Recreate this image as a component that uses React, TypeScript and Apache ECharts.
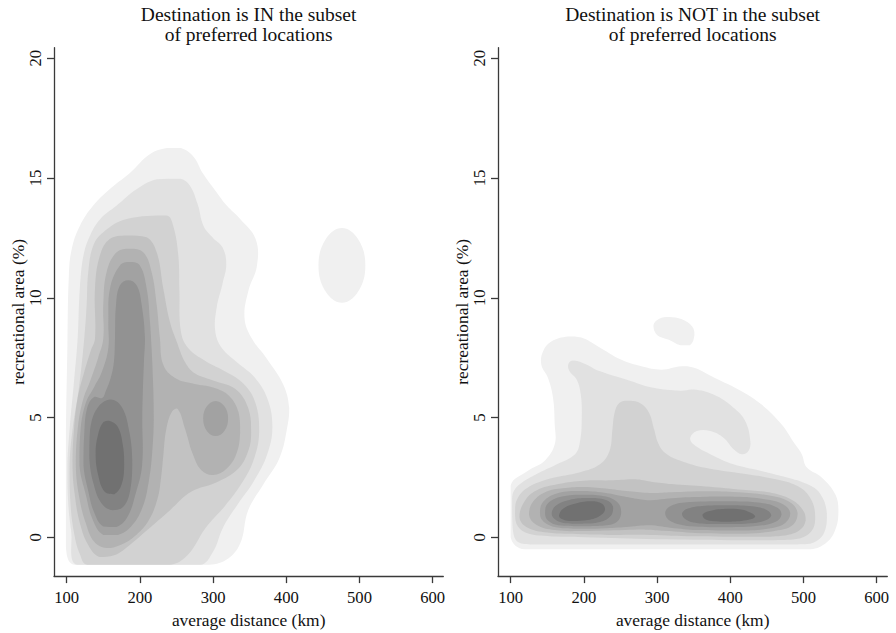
import React, { useEffect, useRef } from "react";
import * as echarts from "echarts";

// ---------- axes ----------
const X_TICKS = [100, 200, 300, 400, 500, 600];
const Y_TICKS = [0, 5, 10, 15, 20];
const X_MIN = 82.7;
const X_MAX = 614.5;
const Y_MIN = -1.62;
const Y_MAX = 20.44;
const X_NAME = "average distance (km)";
const Y_NAME = "recreational area (%)";
const TITLE_IN = ["Destination is IN the subset", "of preferred locations"];
const TITLE_NOT = ["Destination is NOT in the subset", "of preferred locations"];

// ---------- contour level fills (level 1 = lowest density) ----------
const LEVEL_GRAYS = [240, 225, 210, 194, 178, 162, 146, 130, 113];

// ---------- panel 1: destination IN the subset (contour outlines, data units) ----------
const IN_L1 = [[99,-0.4],[111,-1.15],[291,-1.15],[318,-0.94],[337,-0.26],[348,1.13],[369,2.22],[391,3.33],[402,4.71],[404,5.4],[396,6.37],[373,7.48],[353,8.3],[343,9.15],[348,10.26],[360,11.35],[358,12.46],[337,13.29],[319,13.84],[305,14.4],[286,15.2],[273,15.9],[256,16.25],[237,16.25],[214,16.0],[186,15.2],[159,14.54],[136,13.84],[118,13.0],[107,12.05],[103,10.93],[101,8],[99,4]];
const IN_L1_BLOB = [[476,12.91],[498,12.45],[508,11.35],[498,10.25],[476,9.79],[454,10.25],[444,11.35],[454,12.45]];
const IN_L2 = [[114,-1.15],[282,-1.15],[300,-0.6],[314,0.43],[334,1.39],[356,2.36],[374,3.47],[381,4.6],[374,5.8],[356,6.7],[333,7.3],[312,7.9],[303,8.6],[305,9.6],[313,10.6],[318,11.4],[313,12.1],[300,12.5],[287,13.0],[279,13.9],[268,14.7],[255,14.97],[223,14.95],[196,14.54],[168,13.84],[146,13.29],[132,12.6],[123,11.77],[118,10.39],[115,8.3],[110,6.5],[104,4.5],[101,3.0],[102,1.5],[106,0.3]];
const IN_L3 = [[128,-1.15],[240,-1.15],[265,-0.75],[290,0.4],[316,1.3],[338,2.2],[355,3.2],[363,4.4],[358,5.6],[342,6.4],[318,6.9],[290,7.35],[266,7.9],[256,8.6],[254,10.3],[252.5,11.77],[245.6,13.0],[236.6,13.43],[182,13.29],[150,12.74],[136.4,12.18],[129.5,11.08],[127.3,9.7],[124,8.3],[117,6.3],[108,4.5],[104,3.0],[105,1.5],[110,0.2],[118,-0.7]];
const IN_L4 = [[159.2,12.46],[182,12.6],[209.3,12.53],[223,11.9],[232,10.39],[241,9.0],[250,8.2],[262,7.3],[275,6.85],[300,6.55],[330,6.2],[348,5.4],[352,4.4],[348,3.6],[334,2.85],[305,2.3],[270,1.9],[240,1.1],[210,0.3],[185,-0.35],[165,-0.75],[145,-0.82],[130,-0.35],[118,0.6],[111,1.8],[108,3.0],[110,4.5],[115,5.8],[124,6.9],[133,7.8],[138.7,8.3],[138.7,10.39],[145.5,11.77]];
const IN_L5 = [[168.3,11.9],[186.5,12.05],[204.6,11.9],[216,11.08],[223,9.7],[227.4,8.3],[232,7.2],[248,6.65],[275,6.4],[300,6.25],[322,5.9],[335,5.2],[337,4.4],[332,3.5],[318,2.85],[300,2.6],[284,2.8],[272,3.5],[262,4.5],[252,5.35],[244,5.25],[236,4.5],[232,3.4],[229,2.5],[224,1.6],[212,0.7],[195,0.1],[175,-0.3],[155,-0.45],[138,-0.2],[126,0.6],[117,1.7],[112.5,3.0],[115,4.5],[122,5.7],[133,6.6],[143,7.5],[150,8.3],[150,9.7],[154.6,11.08]];
const IN_L6 = [[172.8,11.35],[186.5,11.49],[200,11.35],[209.3,10.39],[213.8,9.0],[216,7.9],[218,6.5],[219,5.0],[217,3.6],[212,2.3],[203,1.2],[188,0.45],[170,0.1],[150,0.1],[136,0.7],[126,1.8],[117.5,3.0],[119,4.5],[126,5.6],[138,6.3],[148,6.9],[156.9,7.9],[156.9,9.0],[159.2,10.39]];
const IN_L6_BUMP = [[303.5,5.69],[315.5,5.47],[320.5,4.96],[315.5,4.44],[303.5,4.23],[291.5,4.44],[286.5,4.96],[291.5,5.47]];
const IN_L7 = [[172.8,10.52],[184.2,10.73],[195.6,10.52],[202.5,9.7],[207,8.3],[205.6,7.34],[204,6.0],[203.3,5.0],[203,3.0],[194,1.8],[183,0.85],[168,0.43],[150,0.45],[138,1.0],[129,2.0],[123,3.0],[124,4.3],[128,5.4],[137,5.85],[148.6,5.82],[153.3,6.1],[160.1,6.65],[164.6,7.34],[166,8.3],[167.4,9.7]];
const IN_L8 = [[160,5.75],[175,5.45],[185,4.5],[189.6,3.2],[187,2.0],[178,1.3],[163,1.13],[148,1.4],[137,2.2],[131,3.3],[132,4.5],[142,5.4]];
const IN_L9 = [[158,4.87],[170,4.6],[177,3.8],[178.6,3.0],[175,2.2],[165,1.8],[152,1.9],[143,2.6],[139.6,3.5],[143,4.3],[150,4.8]];

// ---------- panel 2: destination NOT in the subset ----------
const NOT_L1 = [[100,0.0],[100,2.16],[123.7,2.78],[146.5,3.2],[160.2,3.88],[160.2,4.71],[157.9,5.82],[151,6.65],[141.9,7.2],[144.2,7.76],[155.5,8.17],[178.4,8.38],[196.6,8.34],[219.4,7.97],[251.3,7.41],[278.7,7.14],[306,7.0],[333.4,7.14],[351.7,7.07],[379,6.65],[415.5,6.1],[442.8,5.54],[470.2,4.71],[488.5,3.88],[497.6,3.47],[504.4,2.92],[524.9,2.5],[543.2,1.81],[547.7,1.12],[543.2,0.29],[529.5,-0.27],[506.7,-0.5],[119,-0.5]];
const NOT_L1_BLOB = [[295,8.85],[303,9.12],[316,9.2],[334,9.1],[348,8.8],[351,8.45],[345,8.02],[332,8.02],[316,8.25],[300,8.45]];
const NOT_L2 = [[103,0.3],[102,1.5],[103,1.85],[112.7,2.22],[135.6,2.64],[163,3.05],[188,3.47],[194.8,4.02],[197.1,4.99],[195.8,5.96],[190.3,6.58],[180,6.95],[179,7.25],[185,7.38],[199.3,7.27],[222.2,6.93],[258.7,6.58],[295.1,6.24],[331.6,6.12],[349.8,6.17],[377.2,5.96],[404.5,5.41],[420.5,4.85],[427.4,4.02],[425,3.61],[416,3.47],[404.5,3.68],[390.8,4.16],[372.6,4.44],[354.5,4.44],[345.3,4.16],[349.8,3.88],[372.6,3.47],[404.5,3.05],[441,2.78],[477.6,2.5],[505,2.22],[523,1.81],[532,0.98],[527.6,0.15],[509,-0.27],[480,-0.3],[130,-0.3],[110,-0.2]];
const NOT_L3 = [[248,5.6],[259,5.7],[277,5.6],[289,5.2],[296,4.5],[302,3.9],[312,3.5],[332,3.2],[366,2.9],[411,2.68],[457,2.45],[493,2.12],[510,1.6],[516,0.9],[512,0.3],[495,-0.05],[460,-0.12],[400,-0.12],[300,-0.08],[200,0.0],[150,0.05],[120,0.2],[108,0.55],[106,1.1],[109,1.6],[122,2.05],[154,2.45],[195,2.72],[222,3.05],[235,3.6],[239,4.5],[242,5.2]];
const NOT_L4 = [[112,0.85],[119,1.5],[135,1.95],[165,2.22],[200,2.36],[240,2.38],[270,2.42],[292,2.32],[320,2.22],[366,2.12],[411,2.0],[457,1.85],[485,1.55],[500,1.1],[503,0.7],[495,0.3],[475,0.08],[430,0.02],[350,0.04],[290,0.1],[240,0.1],[197,0.13],[150,0.2],[122,0.42]];
const NOT_L5 = [[125,0.95],[131,1.5],[150,1.92],[175,2.06],[200,2.1],[235,2.02],[262,1.92],[290,1.85],[320,1.88],[366,1.92],[411,1.88],[457,1.72],[482,1.45],[492,1.0],[485,0.5],[462,0.27],[420,0.15],[360,0.17],[310,0.27],[285,0.32],[255,0.3],[200,0.26],[160,0.3],[135,0.52]];
const NOT_L6 = [[140,1.0],[145,1.5],[165,1.85],[195,1.93],[228,1.86],[255,1.7],[278,1.58],[292,1.55],[310,1.6],[350,1.68],[400,1.7],[445,1.6],[472,1.38],[482,1.0],[475,0.6],[455,0.38],[410,0.28],[355,0.3],[318,0.4],[290,0.5],[262,0.44],[230,0.38],[195,0.36],[162,0.42],[145,0.65]];
const NOT_L7_A = [[147,1.0],[151,1.42],[170,1.7],[200,1.78],[230,1.7],[247,1.42],[251,1.0],[244,0.62],[222,0.48],[195,0.46],[165,0.5],[151,0.7]];
const NOT_L7_B = [[311,1.0],[318,1.3],[345,1.47],[400,1.5],[445,1.42],[465,1.22],[470,0.95],[462,0.65],[435,0.47],[390,0.42],[345,0.46],[318,0.68]];
const NOT_L8_A = [[156,1.0],[162,1.33],[180,1.56],[205,1.64],[230,1.56],[240,1.28],[237,0.9],[222,0.64],[197,0.57],[172,0.6],[160,0.76]];
const NOT_L8_B = [[334,1.0],[342,1.2],[365,1.32],[400,1.34],[435,1.28],[452,1.1],[456,0.9],[446,0.68],[420,0.57],[380,0.55],[350,0.62],[337,0.8]];
const NOT_L9_A = [[166,0.9],[172,1.2],[190,1.42],[210,1.5],[225,1.4],[229,1.15],[220,0.86],[200,0.7],[180,0.68],[170,0.76]];
const NOT_L9_B = [[362,0.95],[372,1.1],[395,1.19],[415,1.16],[428,1.02],[434,0.86],[425,0.73],[400,0.65],[375,0.68],[364,0.8]];

type Band = [number, number[][]];
const IN_BANDS: Band[] = [
  [1, IN_L1], [1, IN_L1_BLOB], [2, IN_L2], [3, IN_L3], [4, IN_L4], [5, IN_L5],
  [6, IN_L6], [6, IN_L6_BUMP], [7, IN_L7], [8, IN_L8], [9, IN_L9],
];
const NOT_BANDS: Band[] = [
  [1, NOT_L1], [1, NOT_L1_BLOB], [2, NOT_L2], [3, NOT_L3], [4, NOT_L4], [5, NOT_L5],
  [6, NOT_L6], [7, NOT_L7_A], [7, NOT_L7_B], [8, NOT_L8_A], [8, NOT_L8_B], [9, NOT_L9_A], [9, NOT_L9_B],
];

const FONT = "'Liberation Serif', 'Times New Roman', Times, 'DejaVu Serif', serif";
const INK = "#111111";
const AXIS_COLOR = "#3a3a3a";

const GRID_TOP = 47.7;
const GRID_H = 531.6;
const GRID_W = 389.3;
const GRID_LEFTS = [54, 498];

function contourSeries(bands: Band[], idx: number) {
  return {
    type: "custom",
    xAxisIndex: idx,
    yAxisIndex: idx,
    silent: true,
    clip: true,
    data: bands.map(([lvl, pts]) => [pts[0][0], pts[0][1], lvl]),
    encode: { x: 0, y: 1 },
    renderItem: (params: any, api: any) => {
      const [lvl, pts] = bands[params.dataIndex];
      const px = pts.map((p) => api.coord(p));
      let x0 = Infinity, y0 = Infinity, x1 = -Infinity, y1 = -Infinity;
      px.forEach((p: number[]) => {
        x0 = Math.min(x0, p[0]); y0 = Math.min(y0, p[1]);
        x1 = Math.max(x1, p[0]); y1 = Math.max(y1, p[1]);
      });
      const g = LEVEL_GRAYS[lvl - 1];
      return {
        type: "polygon",
        shape: { points: px, smooth: 0.4, smoothConstraint: [[x0, y0], [x1, y1]] },
        style: { fill: `rgb(${g},${g},${g})` },
      };
    },
  };
}

function xAxisDef(idx: number) {
  return {
    type: "value",
    gridIndex: idx,
    min: X_MIN,
    max: X_MAX,
    splitLine: { show: false },
    axisLine: { show: true, onZero: false, lineStyle: { color: AXIS_COLOR, width: 1.3 } },
    axisTick: { show: true, length: 7, customValues: X_TICKS, lineStyle: { color: AXIS_COLOR, width: 1.3 } },
    axisLabel: { customValues: X_TICKS, fontFamily: FONT, fontSize: 16.6, color: INK, margin: 13 },
    name: X_NAME,
    nameLocation: "middle",
    nameGap: 30,
    nameTextStyle: { fontFamily: FONT, fontSize: 17.4, color: INK },
  };
}

function yAxisDef(idx: number) {
  return {
    type: "value",
    gridIndex: idx,
    min: Y_MIN,
    max: Y_MAX,
    splitLine: { show: false },
    axisLine: { show: true, onZero: false, lineStyle: { color: AXIS_COLOR, width: 1.3 } },
    axisTick: { show: true, length: 7, customValues: Y_TICKS, lineStyle: { color: AXIS_COLOR, width: 1.3 } },
    axisLabel: { customValues: Y_TICKS, rotate: 90, fontFamily: FONT, fontSize: 16.6, color: INK, margin: 10 },
    name: Y_NAME,
    nameLocation: "middle",
    nameGap: 28,
    nameTextStyle: { fontFamily: FONT, fontSize: 17.4, color: INK },
  };
}

function titleText(lines: string[], cx: number) {
  return {
    type: "text",
    x: cx,
    y: 24.5,
    silent: true,
    style: {
      text: lines.join("\n"),
      fontFamily: FONT,
      fontSize: 19.5,
      lineHeight: 20,
      fill: INK,
      align: "center",
      verticalAlign: "middle",
      textAlign: "center",
      textVerticalAlign: "middle",
    },
  };
}

export default function App() {
  const ref = useRef<HTMLDivElement>(null);
  useEffect(() => {
    document.body.style.margin = "0";
    if (!ref.current) return;
    const chart = echarts.init(ref.current, undefined, { renderer: "svg" });
    chart.setOption({
      animation: false,
      backgroundColor: "#ffffff",
      textStyle: { fontFamily: FONT },
      grid: GRID_LEFTS.map((l) => ({ left: l, top: GRID_TOP, width: GRID_W, height: GRID_H })),
      xAxis: [xAxisDef(0), xAxisDef(1)],
      yAxis: [yAxisDef(0), yAxisDef(1)],
      series: [contourSeries(IN_BANDS, 0), contourSeries(NOT_BANDS, 1)],
      graphic: [
        titleText(TITLE_IN, GRID_LEFTS[0] + GRID_W / 2),
        titleText(TITLE_NOT, GRID_LEFTS[1] + GRID_W / 2),
      ],
    });
    return () => chart.dispose();
  }, []);
  return (
    <div
      ref={ref}
      style={{ position: "fixed", left: 0, top: 0, width: 896, height: 633 }}
    />
  );
}
